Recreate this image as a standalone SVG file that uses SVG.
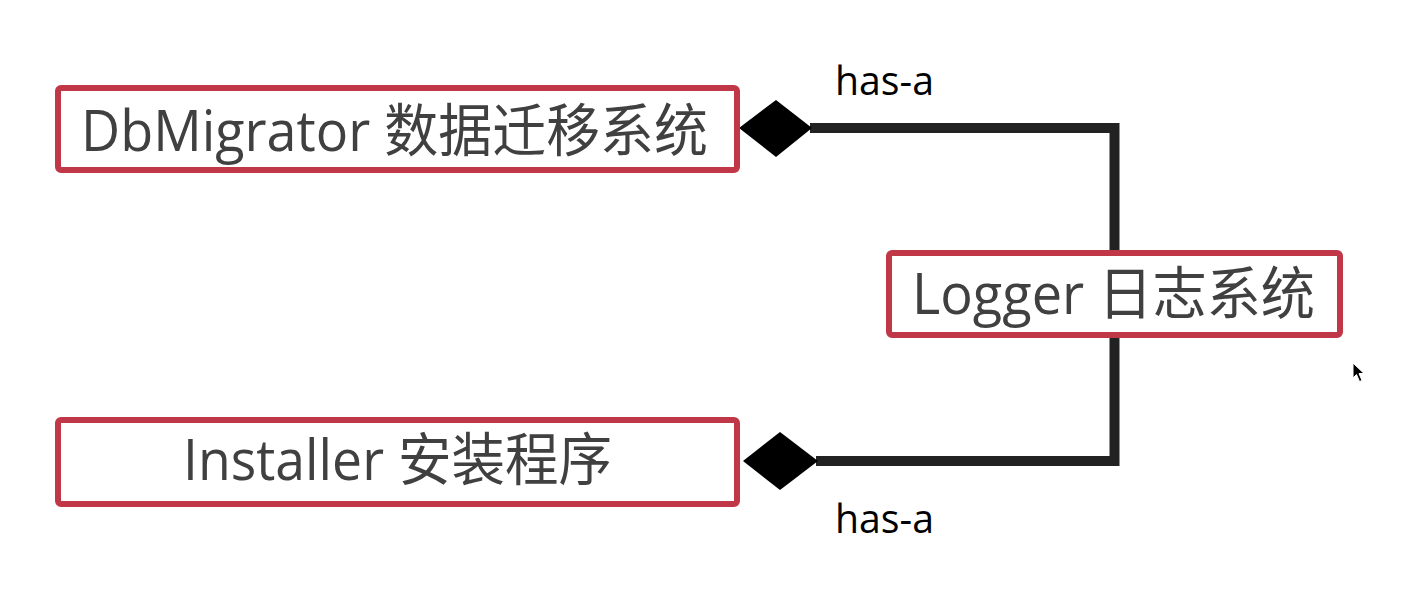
<svg xmlns="http://www.w3.org/2000/svg" width="1406" height="599" viewBox="0 0 1406 599">
  <style>
    .box { fill: #ffffff; stroke: #c03848; stroke-width: 6; }
    .label { font-family: "Open Sans", "Noto Sans CJK SC", sans-serif; font-size: 57px; fill: #404040; }
    .rel { font-family: "Open Sans", "Noto Sans", sans-serif; font-size: 40px; fill: #000000; }
    .conn { fill: none; stroke: #222222; stroke-width: 10; stroke-linejoin: miter; }
    .diamond { fill: #000000; }
  </style>
  <rect width="1406" height="599" fill="#ffffff"/>
  <g id="connectors">
    <path class="conn" d="M 810 128 H 1114.5 V 253"/>
    <path class="conn" d="M 1114.5 335 V 461 H 816"/>
    <polygon class="diamond" points="739,128 776,100 812,128 776,157"/>
    <polygon class="diamond" points="743,461 780,432 818,461 780,490"/>
    <text class="rel" x="835" y="95" textLength="99" lengthAdjust="spacingAndGlyphs">has-a</text>
    <text class="rel" x="835" y="533" textLength="99" lengthAdjust="spacingAndGlyphs">has-a</text>
  </g>
  <g id="node-dbmigrator">
    <rect class="box" x="58" y="88" width="679" height="82" rx="3"/>
    <text class="label" x="81" y="151" textLength="627" lengthAdjust="spacingAndGlyphs">DbMigrator 数据迁移系统</text>
  </g>
  <g id="node-logger">
    <rect class="box" x="889" y="253" width="451" height="82" rx="3"/>
    <text class="label" x="912" y="314" textLength="403" lengthAdjust="spacingAndGlyphs">Logger 日志系统</text>
  </g>
  <g id="node-installer">
    <rect class="box" x="58" y="420" width="679" height="84" rx="3"/>
    <text class="label" x="183" y="480" textLength="429" lengthAdjust="spacingAndGlyphs">Installer 安装程序</text>
  </g>
  <g id="cursor">
    <polygon points="1353,363 1353,378 1356.5,374.5 1359.5,381.5 1362,380.5 1359,373.5 1364,373.5" fill="#000000" stroke="#ffffff" stroke-width="1"/>
  </g>
</svg>
